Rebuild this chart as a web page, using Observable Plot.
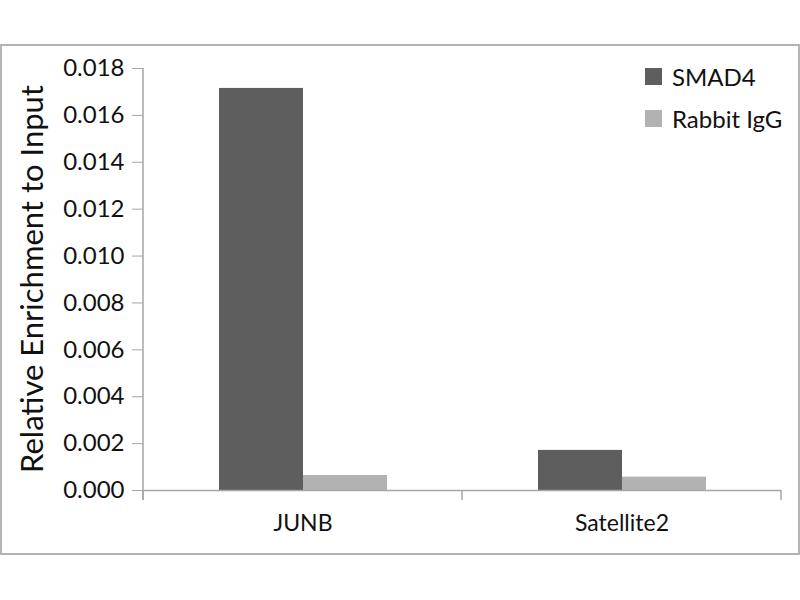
<!DOCTYPE html>
<html>
<head>
<meta charset="utf-8">
<script src="https://cdn.jsdelivr.net/npm/d3@7"></script>
<script src="https://cdn.jsdelivr.net/npm/@observablehq/plot@0.6"></script>
<style>
  html, body { margin: 0; padding: 0; background: #fff; }
  #wrap { position: relative; width: 800px; height: 600px; overflow: hidden; font-family: Lato, sans-serif; }
  #border { position: absolute; left: 0px; top: 44px; width: 796px; height: 507px; border: 2px solid #b4b4b4; pointer-events: none; }
  #legend { position: absolute; left: 645px; top: 55px; font-size: 24px; color: #111; }
  .li { display: flex; align-items: center; height: 42px; }
  .sw { width: 17px; height: 17px; margin-right: 10px; }
</style>
</head>
<body>
<div id="wrap">
  <div id="chart"></div>
  <div id="border"></div>
  <div id="legend"></div>
</div>
<script>
const categories = ["JUNB", "Satellite2"];
const seriesNames = ["SMAD4", "Rabbit IgG"];
const smad4 = [0.01715, 0.00171];
const rabbitIgG = [0.00064, 0.00057];
const yTicks = [0, 0.002, 0.004, 0.006, 0.008, 0.010, 0.012, 0.014, 0.016, 0.018];
const colors = ["#5e5e5e", "#b2b2b2"];

const data = [];
categories.forEach((c, i) => {
  data.push({category: c, series: seriesNames[0], value: smad4[i]});
  data.push({category: c, series: seriesNames[1], value: rabbitIgG[i]});
});

const plot = Plot.plot({
  width: 800,
  height: 600,
  marginLeft: 142,
  marginRight: 19,
  marginTop: 68,
  marginBottom: 110,
  style: {fontFamily: "Lato, sans-serif", fontSize: "24px", color: "#111", background: "transparent"},
  fx: {domain: categories, padding: 0, axis: "bottom", label: null, tickSize: 0, tickPadding: 24},
  x: {domain: seriesNames, paddingInner: 0, paddingOuter: 0.89, axis: null},
  y: {domain: [0, 0.018], ticks: yTicks, tickFormat: d3.format(".3f"), tickSize: 11, tickPadding: 8, label: null, grid: false},
  color: {domain: seriesNames, range: colors},
  marks: [
    Plot.barY(data, {fx: "category", x: "series", y: "value", fill: "series"}),
    Plot.ruleY([0], {stroke: "#a6a6a6", strokeWidth: 1.5})
  ]
});

document.getElementById("chart").appendChild(plot);

const svg = d3.select(plot);
svg.selectAll("[aria-label='y-axis tick'] path, [aria-label='y-axis tick']").attr("stroke", "#a6a6a6");
svg.selectAll("[aria-label='fx-axis tick label'] text, [aria-label='fx-axis tick label']").attr("font-size", 23);
const yS = plot.scale("y");
const fxS = plot.scale("fx");
const y0 = yS.apply(0), yTop = yS.apply(0.018);
const bounds = categories.map(c => fxS.apply(c)).concat([fxS.apply(categories[categories.length - 1]) + fxS.bandwidth]);
const g = svg.append("g").attr("stroke", "#a6a6a6").attr("stroke-width", 1.5);
g.append("line").attr("x1", bounds[0]).attr("x2", bounds[0]).attr("y1", yTop).attr("y2", y0 + 10);
bounds.forEach(b => g.append("line").attr("x1", b).attr("x2", b).attr("y1", y0).attr("y2", y0 + 10));

svg.append("text")
  .attr("transform", `translate(35,${(y0 + yTop) / 2}) rotate(-90)`)
  .attr("text-anchor", "middle")
  .attr("dominant-baseline", "middle")
  .attr("font-size", 31)
  .attr("fill", "#111")
  .text("Relative Enrichment to Input");

const legend = document.getElementById("legend");
seriesNames.forEach((s, i) => {
  const row = document.createElement("div");
  row.className = "li";
  row.innerHTML = `<div class="sw" style="background:${colors[i]}"></div><span>${s}</span>`;
  legend.appendChild(row);
});
</script>
</body>
</html>
